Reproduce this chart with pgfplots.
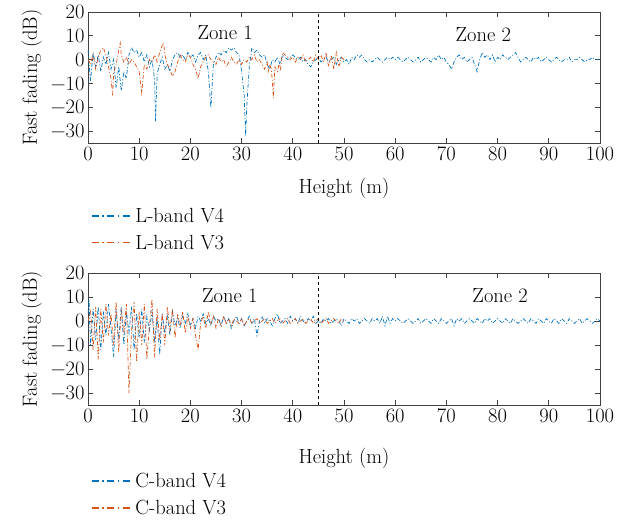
\documentclass[border=0pt]{standalone}
\usepackage{fontspec}
\setmainfont{Latin Modern Roman}
\usepackage{pgfplots}
\pgfplotsset{compat=1.18}
\definecolor{mblue}{RGB}{0,114,189}
\definecolor{morange}{RGB}{217,83,25}
\definecolor{axgray}{RGB}{64,64,64}
\newcommand{\ff}{\fontsize{20.5}{23}\selectfont}
\pgfplotsset{
  fadeax/.style={
    scale only axis, width=512pt, height=131pt,
    xmin=0, xmax=100, ymin=-35, ymax=20,
    xtick={0,10,...,100}, ytick={-30,-20,...,20},
    yticklabels={−30,−20,−10,0,10,20},
    xticklabels={0,10,20,30,40,50,60,70,80,90,100},
    tick align=inside, tick pos=both,
    major tick length=5pt,
    axis line style={axgray, line width=0.8pt},
    every tick/.style={axgray, line width=0.8pt},
    font=\ff,
    tick label style={font=\ff},
    xlabel={Height (m)}, ylabel={Fast fading (dB)},
    ylabel style={yshift=2pt},
    legend cell align=left,
    legend style={draw=none, fill=none, inner xsep=3pt, inner ysep=0pt, row sep=7pt,
      font=\ff},
    legend image code/.code={\draw[#1] (0pt,0pt) -- (35pt,0pt);
      \path (0pt,0pt) -- (41pt,0pt);},
  },
  dd/.style={line width=0.7pt, dash pattern=on 4pt off 2pt on 1pt off 2pt},
  ddleg/.style={line width=1.3pt, dash pattern=on 7pt off 3.5pt on 1.5pt off 3.5pt},
}
\begin{document}
\begin{tikzpicture}
\useasboundingbox (-88pt,-382pt) rectangle (547pt,143pt);
% ---------------- top: L-band
\begin{axis}[fadeax, at={(0pt,0pt)}, anchor=south west,
  xlabel style={yshift=-11pt},
  legend style={at={(axis description cs:0,-0.48)}, anchor=north west}]
\addlegendimage{draw=mblue, ddleg}
\addlegendentry{L-band V4}
\addlegendimage{draw=morange, ddleg}
\addlegendentry{L-band V3}
\addplot[mblue, dd, forget plot] coordinates {
(0,4) (0.5,-9) (1,3) (1.5,-3) (2,2) (2.5,-5) (3,1) (3.5,-2) (4,3) (4.5,-4)
(5,0) (5.5,-12) (6,-3) (6.5,-13) (7,-5) (7.5,-8) (8,2) (8.5,5) (9,3) (9.5,4)
(10,1) (10.5,3) (11,-1) (11.5,2) (12,-3) (12.5,0) (13,-8) (13.2,-26) (13.5,-6) (14,-2)
(14.5,1) (15,-4) (15.5,-2) (16,-5) (16.5,0) (17,2) (17.5,3) (18,1) (18.5,2) (19,0)
(19.5,3) (20,1) (20.5,2) (21,-1) (21.5,2) (22,3) (22.5,0) (23,2) (23.5,-5) (24,-20)
(24.5,-2) (25,1) (25.5,3) (26,2) (26.5,4) (27,3) (27.5,5) (28,4) (28.5,5) (29,3)
(29.5,2) (30,-5) (30.5,-15) (30.8,-32) (31,-20) (31.5,-3) (32,5) (32.5,3) (33,4) (33.5,2)
(34,1) (34.5,2) (35,-2) (35.5,-4) (36,0) (36.5,-1) (37,1) (37.5,-2) (38,2) (38.5,1)
(39,0) (39.5,1) (40,2) (40.5,1) (41,0) (41.5,1) (42,-1) (42.5,0) (43,-2) (43.5,-3)
(44,-1) (44.5,0) (45,1) (45.5,-1) (46,0) (46.5,1) (47,-1) (47.5,0) (48,1) (48.5,-2)
(49,0) (49.5,1) (50,-1) (50.5,0) (51,-2) (51.5,1) (52,0) (52.5,2) (53,1) (53.5,2)
(54,0) (54.5,-1) (55,0) (55.5,-1) (56,0) (56.5,1) (57,0) (57.5,-1) (58,0) (58.5,1)
(59,0) (59.5,1) (60,0) (60.5,1) (61,0) (61.5,-1) (62,0) (62.5,1) (63,0) (63.5,-1)
(64,0) (64.5,1) (65,-1) (65.5,0) (66,1) (66.5,0) (67,-1) (67.5,1) (68,0) (68.5,2)
(69,0) (69.5,1) (70,-1) (70.5,-2) (71,-4) (71.5,-1) (72,1) (72.5,2) (73,0) (73.5,1)
(74,-1) (74.5,0) (75,1) (75.5,-2) (76,-5) (76.5,0) (77,3) (77.5,1) (78,2) (78.5,0)
(79,2) (79.5,-1) (80,1) (80.5,0) (81,2) (81.5,1) (82,0) (82.5,1) (83,2) (83.5,3)
(84,1) (84.5,-1) (85,0) (85.5,1) (86,0) (86.5,-1) (87,1) (87.5,0) (88,1) (88.5,-1)
(89,0) (89.5,1) (90,0) (90.5,-1) (91,0) (91.5,1) (92,0) (92.5,-1) (93,0) (93.5,0)
(94,1) (94.5,-1) (95,0) (95.5,0) (96,1) (96.5,0) (97,-1) (97.5,0) (98,0) (98.5,1)
(99,0) (99.5,0) (100,0)
};
\addplot[morange, dd, forget plot] coordinates {
(0,0) (0.5,-2) (1,2) (1.5,-4) (2,1) (2.5,4) (3,5) (3.5,2) (4,-3) (4.5,-8)
(4.8,-15) (5,-6) (5.5,-2) (6,4) (6.3,7) (6.5,2) (7,-1) (7.5,1) (8,-2) (8.5,0)
(9,-1) (9.5,-3) (10,-5) (10.5,-14) (11,-2) (11.5,-4) (12,0) (12.5,-1) (13,2) (13.5,-1)
(14,3) (14.5,6) (14.8,7) (15,2) (15.5,-2) (16,-4) (16.5,-7) (17,-5) (17.5,-1) (18,2)
(18.5,0) (19,-1) (19.5,2) (20,1) (20.5,-2) (21,-4) (21.5,-8) (22,-3) (22.5,-1) (23,1)
(23.5,2) (24,0) (24.5,-1) (25,-2) (25.5,1) (26,-1) (26.5,0) (27,-3) (27.5,-1) (28,1)
(28.5,-1) (29,-2) (29.5,0) (30,-2) (30.5,0) (31,-1) (31.5,1) (32,0) (32.5,2) (33,-1)
(33.5,0) (34,-2) (34.5,-4) (35,-1) (35.2,-5) (35.5,-2) (35.8,-4) (36,-9) (36.2,-16) (36.5,-3)
(37,-5) (37.3,-2) (37.6,-4) (38,3) (38.5,2) (39,1) (39.5,0) (40,1) (40.5,-1) (41,1)
(41.5,0) (42,2) (42.5,-1) (43,0) (43.5,1) (44,-1) (44.5,2) (45,0) (45.5,2) (46,-1)
(46.5,3) (47,-3) (47.5,2) (48,-4) (48.5,3) (49,-3) (49.5,1) (50,0)
};
\addplot[black, dashed, line width=0.8pt, forget plot] coordinates {(45,-35) (45,20)};
\node[font=\ff] at (axis cs:26.8,11.2) {Zone 1};
\node[font=\ff] at (axis cs:77.2,10.6) {Zone 2};
\end{axis}
% ---------------- bottom: C-band
\begin{axis}[fadeax, at={(0pt,-262pt)}, anchor=south west, height=132pt,
  xlabel style={yshift=-19pt},
  legend style={at={(axis description cs:0,-0.50)}, anchor=north west}]
\addlegendimage{draw=mblue, ddleg}
\addlegendentry{C-band V4}
\addlegendimage{draw=morange, ddleg}
\addlegendentry{C-band V3}
\addplot[mblue, dd, forget plot] coordinates {
(0,3) (0.2,9) (0.5,-10) (1,5) (1.5,-8) (2,6) (2.5,-12) (3,4) (3.5,-6) (4,7)
(4.5,-3) (5,-15) (5.5,5) (6,-8) (6.5,6) (7,-10) (7.5,4) (8,-5) (8.5,6) (9,-12)
(9.5,3) (10,-7) (10.5,5) (11,-9) (11.5,2) (12,-4) (12.5,4) (13,-8) (13.5,1) (14,-14)
(14.5,3) (15,-5) (15.5,2) (16,-6) (16.5,4) (17,-2) (17.5,1) (18,-3) (18.5,2) (19,-1)
(19.5,3) (20,-2) (20.5,1) (21,-3) (21.5,2) (22,0) (22.5,3) (23,-1) (23.5,1) (24,-2)
(24.5,2) (25,0) (25.5,1) (26,-2) (26.5,2) (27,-1) (27.5,1) (28,-3) (28.5,0) (29,2)
(29.5,-1) (30,1) (30.5,-2) (31,0) (31.5,2) (32,-1) (32.5,1) (33,-6) (33.5,0) (34,2)
(34.5,-1) (35,1) (35.5,0) (36,-2) (36.5,1) (37,3) (37.5,-1) (38,0) (38.5,1) (39,-1)
(39.5,2) (40,0) (40.5,1) (41,-1) (41.5,2) (42,0) (42.5,-1) (43,1) (43.5,0) (44,2)
(44.5,-1) (45,0) (45.5,-1) (46,1) (46.5,0) (47,1) (47.5,-1) (48,0) (48.5,1) (49,0)
(49.5,-2) (50,1) (50.5,0) (51,-1) (51.5,1) (52,0) (52.5,1) (53,-1) (53.5,0) (54,1)
(54.5,0) (55,-1) (55.5,1) (56,0) (56.5,1) (57,-1) (57.5,2) (58,-2) (58.5,2) (59,-1)
(59.5,1) (60,0) (60.5,1) (61,0) (61.5,-1) (62,0) (62.5,1) (63,0) (63.5,-1) (64,0)
(64.5,1) (65,-1) (65.5,0) (66,1) (66.5,0) (67,-1) (67.5,1) (68,0) (68.5,-1) (69,1)
(69.5,0) (70,-1) (70.5,0) (71,1) (71.5,-2) (72,1) (72.5,0) (73,1) (73.5,-1) (74,0)
(74.5,1) (75,0) (75.5,-1) (76,1) (76.5,0) (77,-1) (77.5,1) (78,0) (78.5,1) (79,-1)
(79.5,0) (80,1) (80.5,0) (81,-1) (81.5,1) (82,0) (82.5,-1) (83,1) (83.5,0) (84,-1)
(84.5,0) (85,1) (85.5,0) (86,-1) (86.5,1) (87,0) (87.5,-1) (88,1) (88.5,0) (89,-1)
(89.5,1) (90,0) (90.5,-1) (91,1) (91.5,0) (92,-1) (92.5,1) (93,0) (93.5,-1) (94,1)
(94.5,0) (95,-1) (95.5,0) (96,1) (96.5,-1) (97,0) (97.5,1) (98,0) (98.5,-1) (99,0)
(99.5,1) (100,0)
};
\addplot[morange, dd, forget plot] coordinates {
(0,0) (0.5,4) (1,-12) (1.5,6) (2,-16) (2.5,5) (3,-9) (3.5,7) (4,-6) (4.5,3)
(5,-10) (5.5,8) (6,-13) (6.5,5) (7,-5) (7.5,7) (8,-30) (8.5,-4) (9,8) (9.5,-17)
(10,4) (10.5,-10) (11,7) (11.5,-16) (12,-2) (12.5,9) (13,-15) (13.5,5) (14,-8) (14.5,3)
(15,-10) (15.5,6) (16,-4) (16.5,5) (17,-7) (17.5,3) (18,-2) (18.5,4) (19,-5) (19.5,2)
(20,-3) (20.5,1) (21,-6) (21.5,-12) (22,-1) (22.5,2) (23,-3) (23.5,4) (24,-1) (24.5,2)
(25,-3) (25.5,1) (26,-2) (26.5,2) (27,-1) (27.5,1) (28,-2) (28.5,1) (29,0) (29.5,-1)
(30,1) (30.5,-2) (31,0) (31.5,1) (32,-1) (32.5,0) (33,1) (33.5,-1) (34,0) (34.5,1)
(35,-1) (35.5,0) (36,1) (36.5,-1) (37,0) (37.5,1) (38,-1) (38.5,0) (39,1) (39.5,-1)
(40,0) (40.5,1) (41,-1) (41.5,0) (42,1) (42.5,-1) (43,0) (43.5,1) (44,-1) (44.5,0)
(45,1) (45.5,-1) (46,0) (46.5,1) (47,-1) (47.5,0) (48,1) (48.5,0) (49,-1) (49.5,1)
(50,0)
};
\addplot[black, dashed, line width=0.8pt, forget plot] coordinates {(45,-35) (45,20)};
\node[font=\ff] at (axis cs:27.7,10.4) {Zone 1};
\node[font=\ff] at (axis cs:80.5,10.4) {Zone 2};
\end{axis}
\end{tikzpicture}
\end{document}
